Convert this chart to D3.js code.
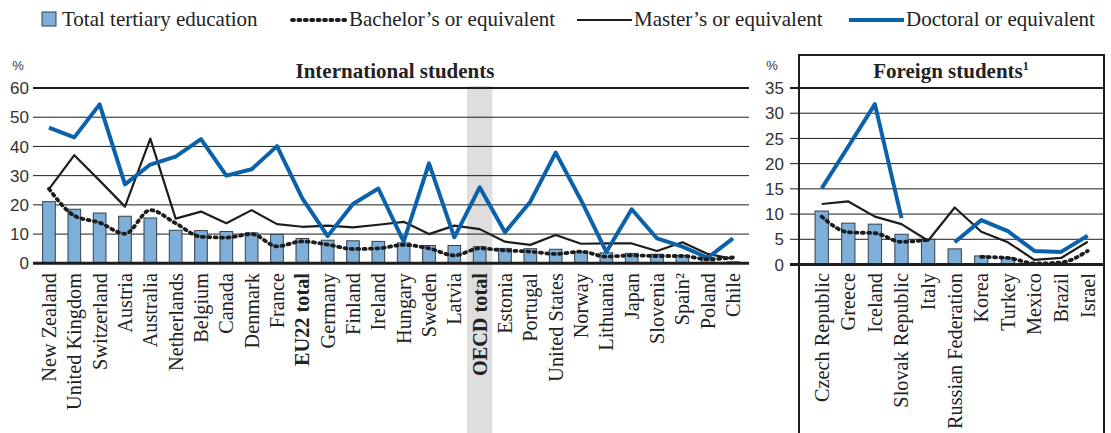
<!DOCTYPE html>
<html>
<head>
<meta charset="utf-8">
<script src="https://cdn.jsdelivr.net/npm/d3@7"></script>
<style>
  html, body { margin: 0; padding: 0; background: #fff; }
  svg { display: block; }
  .lbl { font-family: "Liberation Serif", "Times New Roman", serif; font-size: 21px; fill: #222; }
  .cat { font-family: "Liberation Serif", "Times New Roman", serif; font-size: 20.3px; fill: #222; }
  .tick { font-family: "Liberation Sans", Arial, sans-serif; font-size: 17px; fill: #333; }
</style>
</head>
<body>
<svg id="chart" width="1111" height="433"></svg>
<script>
// International students (percentage of enrolment), by level
const intlCategories = ["New Zealand", "United Kingdom", "Switzerland", "Austria", "Australia", "Netherlands",
  "Belgium", "Canada", "Denmark", "France", "EU22 total", "Germany", "Finland", "Ireland", "Hungary",
  "Sweden", "Latvia", "OECD total", "Estonia", "Portugal", "United States", "Norway", "Lithuania",
  "Japan", "Slovenia", "Spain²", "Poland", "Chile"];
const intlTotal    = [21.1, 18.5, 17.2, 16.1, 15.5, 11.3, 11.2, 10.9, 10.4, 9.9, 8.5, 7.9, 7.7, 7.5, 7.0,
  6.1, 6.1, 5.7, 5.1, 5.0, 4.8, 3.9, 3.6, 3.4, 3.1, 2.7, 1.8, 0.5];
const intlBachelor = [25.5, 16.3, 13.9, 10.1, 18.2, 13.7, 9.1, 8.8, 10.0, 5.8, 7.5, 6.4, 4.9, 5.1, 6.3,
  5.1, 2.7, 5.1, 4.4, 4.0, 3.2, 4.0, 2.3, 2.7, 2.5, 2.5, 1.4, 2.0];
const intlMaster   = [25.4, 37.0, 28.3, 19.4, 42.7, 15.3, 17.7, 13.7, 18.2, 13.4, 12.5, 12.9, 12.3, 13.2, 14.2,
  10.0, 12.9, 11.7, 7.4, 6.3, 9.7, 6.7, 6.8, 6.8, 4.2, 7.2, 3.2, 1.5];
const intlDoctoral = [46.4, 43.1, 54.4, 27.0, 33.8, 36.5, 42.5, 30.0, 32.2, 40.1, 22.2, 9.3, 20.3, 25.6, 7.4,
  34.2, 8.9, 26.0, 10.6, 21.1, 37.9, 21.6, 3.9, 18.5, 8.5, 5.7, 1.9, 8.5];
const intlTicks = [0, 10, 20, 30, 40, 50, 60];
const intlBold = ["EU22 total", "OECD total"];
const intlHighlight = "OECD total";

// Foreign students (percentage of enrolment), by level
const foreignCategories = ["Czech Republic", "Greece", "Iceland", "Slovak Republic", "Italy",
  "Russian Federation", "Korea", "Turkey", "Mexico", "Brazil", "Israel"];
const foreignTotal    = [10.6, 8.2, 8.0, 6.0, 5.0, 3.1, 1.7, 1.4, 0.3, 0.3, null];
const foreignBachelor = [9.5, 6.4, 6.2, 4.5, 4.9, null, 1.5, 1.3, 0.2, 0.4, 2.7];
const foreignMaster   = [12.0, 12.5, 9.5, 8.0, 4.7, 11.3, 6.5, 4.4, 0.9, 1.3, 4.5];
const foreignDoctoral = [15.1, 23.4, 31.8, 9.2, null, 4.4, 8.8, 6.6, 2.7, 2.5, 5.7];
const foreignTicks = [0, 5, 10, 15, 20, 25, 30, 35];

const legendItems = ["Total tertiary education", "Bachelor’s or equivalent", "Master’s or equivalent", "Doctoral or equivalent"];

const BAR_FILL = "#7dafd8";
const BAR_STROKE = "#34414d";
const BLUE = "#0b62ab";
const DARK = "#1d1d1d";
const DOTS = "2 4.4";

const svg = d3.select("#chart");

function drawPanel(cfg) {
  const g = svg.append("g");
  const x = d3.scaleBand().domain(cfg.categories).range(cfg.xRange).paddingInner(0.5).paddingOuter(0.25);
  const y = d3.scaleLinear().domain([0, d3.max(cfg.ticks)]).range(cfg.yRange);
  const cx = c => x(c) + x.bandwidth() / 2;

  // highlighted column
  if (cfg.highlight) {
    g.append("rect")
      .attr("x", cx(cfg.highlight) - x.step() / 2)
      .attr("y", y(d3.max(cfg.ticks)) - 2)
      .attr("width", x.step())
      .attr("height", 433 - y(d3.max(cfg.ticks)) + 2)
      .attr("fill", "#dedede");
  }

  // gridlines
  g.selectAll("line.grid").data(cfg.ticks.filter(t => t > 0)).join("line")
    .attr("x1", cfg.gridX[0]).attr("x2", cfg.gridX[1])
    .attr("y1", d => y(d)).attr("y2", d => y(d))
    .attr("stroke", DARK)
    .attr("stroke-width", d => d === d3.max(cfg.ticks) ? 2 : 1);

  // y tick labels
  g.selectAll("text.tick").data(cfg.ticks).join("text")
    .attr("class", "tick")
    .attr("x", cfg.tickX).attr("y", d => y(d))
    .attr("dy", "0.36em")
    .attr("text-anchor", "end")
    .text(d => d);

  g.append("text").attr("class", "tick")
    .attr("x", cfg.pctX).attr("y", 70)
    .attr("text-anchor", "middle")
    .style("font-size", "13px")
    .text("%");

  // bars
  const barData = cfg.categories.map((c, i) => ({ c, v: cfg.total[i] })).filter(d => d.v != null);
  g.selectAll("rect.bar").data(barData).join("rect")
    .attr("x", d => x(d.c))
    .attr("y", d => y(d.v))
    .attr("width", x.bandwidth())
    .attr("height", d => y(0) - y(d.v))
    .attr("fill", BAR_FILL)
    .attr("stroke", BAR_STROKE)
    .attr("stroke-width", 1);

  // baseline
  g.append("line")
    .attr("x1", cfg.gridX[0]).attr("x2", cfg.gridX[1])
    .attr("y1", y(0)).attr("y2", y(0))
    .attr("stroke", DARK).attr("stroke-width", 3);

  const series = (vals) => cfg.categories.map((c, i) => ({ c, v: vals[i] }));
  const straight = d3.line().defined(d => d.v != null).x(d => cx(d.c)).y(d => y(d.v));
  const smooth = d3.line().defined(d => d.v != null).x(d => cx(d.c)).y(d => y(d.v)).curve(d3.curveMonotoneX);

  g.append("path").datum(series(cfg.master)).attr("d", straight)
    .attr("fill", "none").attr("stroke", DARK).attr("stroke-width", 2.2)
    .attr("stroke-linejoin", "round");
  g.append("path").datum(series(cfg.doctoral)).attr("d", straight)
    .attr("fill", "none").attr("stroke", BLUE).attr("stroke-width", 4)
    .attr("stroke-linejoin", "round");
  g.append("path").datum(series(cfg.bachelor)).attr("d", smooth)
    .attr("fill", "none").attr("stroke", DARK).attr("stroke-width", 3.8)
    .attr("stroke-linecap", "round").attr("stroke-dasharray", DOTS);

  // category labels
  g.selectAll("text.cat").data(cfg.categories).join("text")
    .attr("class", "cat")
    .attr("transform", d => `translate(${cx(d)},${cfg.labelTop}) rotate(-90)`)
    .attr("dy", "0.34em")
    .attr("text-anchor", "end")
    .style("font-weight", d => (cfg.bold || []).includes(d) ? "bold" : "normal")
    .text(d => d);

  // panel title
  const t = g.append("text").attr("class", "lbl")
    .attr("x", cfg.titleX).attr("y", 78)
    .attr("text-anchor", "middle")
    .style("font-weight", "bold")
    .text(cfg.title);
  if (cfg.titleSup) {
    t.append("tspan").attr("dy", -8).style("font-size", "12px").text(cfg.titleSup);
  }
  return { x, y };
}

drawPanel({
  categories: intlCategories, total: intlTotal, bachelor: intlBachelor, master: intlMaster, doctoral: intlDoctoral,
  ticks: intlTicks, xRange: [36.3, 745.7], yRange: [263.3, 88], gridX: [33, 749],
  tickX: 29, pctX: 18, labelTop: 273, highlight: intlHighlight, bold: intlBold,
  title: "International students", titleX: 395
});

drawPanel({
  categories: foreignCategories, total: foreignTotal, bachelor: foreignBachelor, master: foreignMaster, doctoral: foreignDoctoral,
  ticks: foreignTicks, xRange: [808.4, 1101], yRange: [264.5, 88], gridX: [790, 1104],
  tickX: 784, pctX: 772, labelTop: 273,
  title: "Foreign students", titleSup: "1", titleX: 951
});

// frame around the foreign-students panel
svg.append("path")
  .attr("d", d3.line()([[799, 433], [799, 55], [1104, 55], [1104, 433]]))
  .attr("fill", "none").attr("stroke", DARK).attr("stroke-width", 2);

// legend
const lg = svg.append("g");
lg.append("rect").attr("x", 42).attr("y", 12).attr("width", 14).attr("height", 14)
  .attr("fill", BAR_FILL).attr("stroke", BAR_STROKE).attr("stroke-width", 1);
lg.append("text").attr("class", "lbl").attr("x", 62).attr("y", 26).text(legendItems[0]);

lg.append("line").attr("x1", 292).attr("x2", 347).attr("y1", 20).attr("y2", 20)
  .attr("stroke", DARK).attr("stroke-width", 3.8).attr("stroke-linecap", "round").attr("stroke-dasharray", DOTS);
lg.append("text").attr("class", "lbl").attr("x", 349).attr("y", 26).text(legendItems[1]);

lg.append("line").attr("x1", 577).attr("x2", 632).attr("y1", 20).attr("y2", 20)
  .attr("stroke", DARK).attr("stroke-width", 2.2);
lg.append("text").attr("class", "lbl").attr("x", 634).attr("y", 26).text(legendItems[2]);

lg.append("line").attr("x1", 849).attr("x2", 904).attr("y1", 20).attr("y2", 20)
  .attr("stroke", BLUE).attr("stroke-width", 4);
lg.append("text").attr("class", "lbl").attr("x", 906).attr("y", 26).text(legendItems[3]);
</script>
</body>
</html>
